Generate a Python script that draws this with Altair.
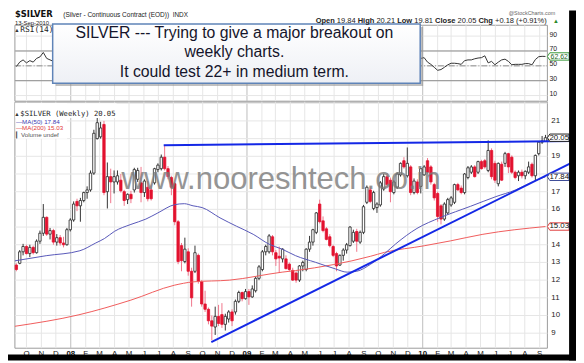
import altair as alt
import pandas as pd

# ---------------- values ----------------
first_week = "2007-09-10"

week_open = [
    12.85, 12.95, 13.60, 13.90, 13.50, 13.85, 13.55, 14.20, 14.65, 15.55,
    14.60, 14.80, 14.15, 14.40, 14.10, 14.00, 14.85, 15.40, 16.45, 16.20,
    16.50, 16.95, 17.10, 18.05, 20.00, 20.10, 20.80, 17.00, 17.85, 17.55,
    17.55, 17.65, 17.00, 16.55, 16.85, 17.10, 17.70, 17.50, 16.95, 17.25,
    17.10, 17.50, 18.25, 18.30, 18.95, 18.30, 17.80, 17.45, 15.30, 13.95,
    13.05, 13.60, 12.50, 12.50, 13.40, 11.90, 10.65, 10.35, 9.70, 9.35,
    9.95, 10.05, 9.50, 9.80, 10.20, 10.20, 10.80, 11.30, 10.95, 11.35,
    11.05, 11.40, 12.10, 12.60, 13.60, 13.60, 14.45, 13.55, 13.35, 13.20,
    13.20, 12.90, 12.55, 12.40, 12.00, 12.80, 12.60, 13.75, 14.15, 14.70,
    16.30, 15.35, 14.90, 14.45, 13.90, 13.50, 12.85, 13.40, 13.70, 13.95,
    14.20, 14.75, 14.15, 14.70, 16.40, 17.10, 16.05, 16.10, 16.25, 17.15,
    17.85, 17.65, 16.95, 17.25, 17.95, 18.75, 17.90, 18.40, 16.95, 17.55,
    17.30, 17.95, 18.75, 18.40, 17.40, 16.90, 16.20, 15.45, 15.80, 16.25,
    16.40, 17.40, 17.20, 16.95, 17.80, 18.10, 18.40, 18.10, 18.70, 18.75,
    18.20, 19.33, 18.60, 17.45, 18.55, 18.60, 19.15, 18.95, 18.10, 17.90,
    18.10, 17.90, 18.10, 18.55, 17.90, 19.15, 19.80, 19.84]
week_high = [
    12.95, 13.70, 14.05, 14.00, 14.00, 13.95, 14.30, 14.80, 16.30, 15.60,
    14.95, 14.90, 14.60, 14.55, 14.45, 14.95, 15.50, 16.45, 16.60, 16.65,
    17.00, 17.30, 18.20, 20.50, 21.30, 20.95, 21.00, 18.65, 18.30, 18.20,
    18.20, 18.00, 17.10, 16.90, 17.05, 18.35, 18.35, 18.40, 17.70, 17.60,
    17.40, 18.35, 18.60, 19.10, 19.60, 18.45, 17.90, 17.55, 15.40, 14.10,
    14.40, 13.80, 12.70, 13.95, 13.50, 12.00, 11.40, 10.45, 10.00, 10.50,
    10.60, 10.70, 10.10, 10.30, 10.35, 10.90, 11.40, 11.35, 11.50, 11.50,
    11.70, 12.20, 12.85, 13.70, 14.00, 14.60, 14.55, 13.70, 13.90, 13.80,
    13.40, 13.00, 12.70, 12.50, 12.85, 13.10, 13.80, 14.50, 14.90, 15.85,
    16.55, 15.60, 15.00, 14.60, 14.00, 13.60, 13.45, 13.80, 14.10, 15.05,
    14.85, 14.90, 14.80, 16.25, 17.35, 17.25, 17.05, 16.40, 17.60, 18.00,
    18.05, 17.80, 17.65, 18.10, 18.65, 18.95, 19.50, 18.50, 17.75, 17.70,
    18.35, 18.50, 18.90, 18.50, 17.50, 17.00, 16.30, 16.40, 16.65, 16.75,
    17.45, 17.50, 17.35, 18.05, 18.45, 18.50, 18.50, 18.75, 18.80, 18.85,
    19.90, 19.45, 18.75, 18.65, 18.70, 19.25, 19.20, 19.05, 18.20, 18.20,
    18.25, 18.20, 18.70, 18.65, 19.10, 19.85, 20.15, 20.21]
week_low = [
    12.50, 12.90, 13.40, 13.45, 13.30, 13.45, 13.50, 14.05, 14.50, 14.50,
    14.30, 14.00, 13.95, 13.95, 13.85, 13.95, 14.75, 15.30, 15.90, 15.30,
    16.40, 16.60, 17.00, 17.95, 19.95, 20.00, 16.80, 16.05, 16.35, 16.90,
    17.40, 16.95, 16.20, 16.30, 16.35, 16.95, 17.55, 16.40, 16.70, 16.45,
    16.50, 17.40, 18.10, 18.20, 18.20, 17.70, 16.80, 15.10, 12.90, 12.50,
    12.95, 12.25, 10.50, 12.40, 11.80, 10.50, 10.20, 9.50, 8.60, 8.90,
    9.40, 9.30, 9.15, 9.60, 9.40, 10.05, 10.70, 10.80, 10.90, 10.60,
    11.00, 11.30, 12.00, 12.50, 13.40, 13.50, 13.40, 12.80, 12.40, 13.00,
    12.60, 12.50, 11.95, 11.85, 11.90, 12.50, 12.50, 13.60, 13.95, 14.60,
    15.20, 14.70, 14.25, 13.85, 13.30, 12.50, 12.80, 13.10, 13.50, 13.90,
    14.10, 13.60, 14.05, 14.60, 16.30, 16.35, 15.95, 15.80, 16.15, 17.05,
    17.30, 16.40, 16.85, 17.15, 17.85, 18.30, 17.80, 16.80, 16.85, 16.85,
    16.90, 17.90, 18.00, 17.40, 16.50, 15.30, 15.15, 15.35, 15.70, 16.15,
    16.30, 17.05, 16.85, 16.85, 17.70, 18.00, 17.80, 18.00, 18.25, 18.30,
    18.10, 17.70, 17.50, 17.30, 17.60, 18.40, 18.05, 18.00, 17.70, 17.60,
    17.75, 17.70, 18.00, 17.80, 17.60, 19.05, 19.70, 19.81]
week_close = [
    12.60, 13.60, 13.90, 13.50, 13.85, 13.55, 14.20, 14.65, 15.55, 14.60,
    14.80, 14.15, 14.40, 14.10, 14.00, 14.85, 15.40, 16.30, 16.20, 16.50,
    16.95, 17.10, 18.05, 20.30, 20.90, 20.60, 16.95, 17.85, 17.55, 17.85,
    17.90, 17.05, 16.50, 16.85, 16.60, 18.25, 18.20, 16.95, 17.60, 16.60,
    16.60, 18.30, 18.50, 18.95, 18.30, 17.85, 17.25, 15.30, 13.05, 13.10,
    13.75, 12.50, 11.00, 13.55, 11.95, 10.65, 10.35, 9.70, 9.40, 9.95,
    9.55, 9.50, 9.95, 10.20, 9.70, 10.80, 11.30, 10.95, 11.35, 11.05,
    11.50, 12.10, 12.75, 13.60, 13.90, 14.50, 13.60, 13.20, 13.25, 13.75,
    12.65, 12.60, 12.00, 12.00, 12.80, 13.00, 13.75, 14.15, 14.85, 15.80,
    15.30, 14.80, 14.30, 13.95, 13.40, 12.80, 13.40, 13.70, 14.00, 15.00,
    14.70, 14.20, 14.70, 16.15, 17.25, 16.45, 16.95, 16.30, 17.50, 17.85,
    17.40, 17.00, 17.55, 18.00, 18.60, 18.40, 18.60, 16.95, 17.60, 16.95,
    18.30, 18.40, 18.10, 17.55, 16.65, 15.60, 15.45, 16.30, 16.55, 16.65,
    17.40, 17.10, 16.95, 18.00, 18.35, 18.40, 17.85, 18.70, 18.30, 18.40,
    19.33, 17.85, 17.65, 18.60, 17.65, 19.15, 18.40, 18.10, 17.80, 18.10,
    17.90, 18.15, 18.40, 17.90, 19.05, 19.80, 19.87, 20.05]

# RSI(14): only the parts not hidden by the annotation box
rsi_head_weeks = list(range(0, 12))
rsi_head = [49, 55, 58, 54, 57, 55, 60, 62, 68, 60, 58, 56]
rsi_tail_weeks = list(range(120, 158))
rsi_tail = [60, 61, 55, 52, 48, 44, 45, 48, 51.3, 53.5,
            53.5, 53, 52, 57, 58, 58, 59.5, 60.5, 61, 63.5,
            54, 56, 51.5, 55, 58, 59, 56, 51.5, 52, 52,
            52, 53, 53, 51.3, 58.5, 62.3, 62.8, 62.62]

ma50_dates = ["2007-09-07", "2007-11-11", "2008-01-20", "2008-02-22", "2008-03-11",
              "2008-04-01", "2008-05-05", "2008-06-05", "2008-06-30", "2008-08-03",
              "2008-08-24", "2008-09-11", "2008-09-30", "2008-11-06", "2008-12-10",
              "2009-01-14", "2009-02-16", "2009-03-15", "2009-04-12", "2009-05-23",
              "2009-07-03", "2009-07-28", "2009-08-17", "2009-09-15", "2009-10-14",
              "2009-11-06", "2009-12-20", "2010-02-07", "2010-04-10", "2010-06-02",
              "2010-07-13", "2010-08-17", "2010-09-13"]
ma50_values = [13.09, 13.38, 13.66, 14.10, 14.35,
               14.76, 15.15, 15.45, 15.80, 16.26,
               16.32, 16.20, 16.10, 15.52, 15.05,
               14.59, 14.03, 13.75, 13.38, 13.01,
               12.64, 12.45, 12.50, 12.90, 13.50,
               14.05, 14.92, 15.54, 16.17, 16.72,
               17.10, 17.56, 17.84]
ma200_dates = ["2007-09-07", "2008-01-18", "2008-05-05", "2008-08-03", "2008-09-11",
               "2008-11-26", "2009-03-15", "2009-04-12", "2009-09-15", "2009-10-14",
               "2010-01-04", "2010-02-28", "2010-05-06", "2010-09-13"]
ma200_values = [9.39, 10.04, 10.87, 11.71, 11.90,
                12.00, 12.45, 12.54, 13.35, 13.57,
                13.94, 14.22, 14.59, 15.03]

resistance_dates = ["2008-07-12", "2010-11-07"]
resistance_values = [19.63, 19.86]
support_dates = ["2008-10-19", "2010-11-10"]
support_values = [8.50, 18.68]

month_labels = ["O", "N", "D", "08", "F", "M", "A", "M", "J", "J", "A", "S",
                "O", "N", "D", "09", "F", "M", "A", "M", "J", "J", "A", "S",
                "O", "N", "D", "10", "F", "M", "A", "M", "J", "J", "A", "S"]
price_grid = list(range(9, 23))
price_labels = [9, 10, 11, 12, 13, 14, 16, 17, 19, 21]
rsi_grid = [10, 30, 50, 70, 90]
rsi_bands = [30, 70]
rsi_mid = [50]

price_tags = [20.05, 17.84, 15.03]
rsi_tag = [62.62]

# ---------------- tables ----------------
week_dates = pd.date_range(first_week, periods=len(week_close), freq="7D").strftime("%Y-%m-%d").tolist()
candles = pd.DataFrame({"date": week_dates, "open": week_open, "high": week_high,
                        "low": week_low, "close": week_close})
candles["dir"] = ["up" if c >= o else "down" for o, c in zip(week_open, week_close)]

rsi_df = pd.DataFrame({
    "date": [week_dates[i] for i in rsi_head_weeks] + [week_dates[i] for i in rsi_tail_weeks],
    "rsi": rsi_head + rsi_tail,
    "seg": ["a"] * len(rsi_head) + ["b"] * len(rsi_tail)})
ma50_df = pd.DataFrame({"date": ma50_dates, "v": ma50_values})
ma200_df = pd.DataFrame({"date": ma200_dates, "v": ma200_values})
res_df = pd.DataFrame({"date": resistance_dates, "v": resistance_values})
sup_df = pd.DataFrame({"date": support_dates, "v": support_values})
months = pd.DataFrame({
    "date": pd.date_range("2007-10-01", periods=len(month_labels), freq="MS").strftime("%Y-%m-%d"),
    "label": month_labels,
    "kind": ["year" if s.isdigit() else "month" for s in month_labels]})
pgrid_df = pd.DataFrame({"v": price_grid})
plab_df = pd.DataFrame({"v": price_labels, "t": [str(v) for v in price_labels]})
rgrid_df = pd.DataFrame({"v": rsi_grid, "t": [str(v) for v in rsi_grid]})
rband_df = pd.DataFrame({"v": rsi_bands})
rmid_df = pd.DataFrame({"v": rsi_mid})
ptag_df = pd.DataFrame({"v": price_tags, "t": [f"{v:.2f}" for v in price_tags],
                        "edge": ["#222222", "#3c4a96", "#e03a3a"]})
rtag_df = pd.DataFrame({"v": rsi_tag, "t": [f"{v:.2f}" for v in rsi_tag], "edge": ["#3a9a3a"]})

# ---------------- layout (pixels inside the 576x355 canvas) ----------------
W, H = 576, 355
X0, X1 = 7, 547
RT, RB = 15, 92
PT, PB = 93, 342.5
FONT = "Liberation Sans"
TAG = "M -1 0 L -0.78 -0.34 L 1 -0.34 L 1 0.34 L -0.78 0.34 Z"


def dt(y, m, d):
    return alt.DateTime(year=y, month=m, date=d, utc=True)


x_scale = alt.Scale(type="utc", domain=[dt(2007, 9, 7), dt(2010, 9, 17)], range=[X0, X1])
p_scale = alt.Scale(domain=[8.15, 22.06], range=[PB, PT], nice=False, zero=False)
r_scale = alt.Scale(domain=[2.44, 104.6], range=[RB, RT], nice=False, zero=False)


def xd():
    return alt.X("date:T", scale=x_scale, axis=None)


def yp(f):
    return alt.Y(f + ":Q", scale=p_scale, axis=None)


def yr(f):
    return alt.Y(f + ":Q", scale=r_scale, axis=None)


one = pd.DataFrame({"k": [0]})


def box(x, x2, y, y2, **kw):
    return alt.Chart(one).mark_rect(**kw).encode(
        x=alt.value(x), x2=alt.value(x2), y=alt.value(y), y2=alt.value(y2))


def label(txt, x, y, **kw):
    return alt.Chart(pd.DataFrame({"t": [txt]})).mark_text(**kw).encode(
        x=alt.value(x), y=alt.value(y), text="t:N")


grid_color = alt.Color("kind:N", scale=alt.Scale(domain=["month", "year"],
                                                 range=["#e6e6e6", "#bdbdbd"]), legend=None)

layers = [
    box(X0, X1, RT, RB, fill="white", stroke="#9a9a9a", strokeWidth=1),
    box(X0, X1, PT, PB, fill="white", stroke="#9a9a9a", strokeWidth=1),
    alt.Chart(months).mark_rule(strokeWidth=1).encode(
        x=xd(), y=alt.value(RT), y2=alt.value(RB), color=grid_color),
    alt.Chart(months).mark_rule(strokeWidth=1).encode(
        x=xd(), y=alt.value(PT), y2=alt.value(PB), color=grid_color),
    alt.Chart(pgrid_df).mark_rule(color="#e6e6e6").encode(
        y=yp("v"), x=alt.value(X0), x2=alt.value(X1)),
    alt.Chart(rgrid_df).mark_rule(color="#e6e6e6").encode(
        y=yr("v"), x=alt.value(X0), x2=alt.value(X1)),
    alt.Chart(rband_df).mark_rule(color="#8c8c8c").encode(
        y=yr("v"), x=alt.value(X0), x2=alt.value(X1)),
    alt.Chart(rmid_df).mark_rule(color="#8c8c8c", strokeDash=[6, 2, 1, 2]).encode(
        y=yr("v"), x=alt.value(X0), x2=alt.value(X1)),
    alt.Chart(rsi_df).mark_line(color="#333333", strokeWidth=1).encode(
        x=xd(), y=yr("rsi"), detail="seg:N"),
    # candles
    alt.Chart(candles).mark_rule(strokeWidth=1).encode(
        x=xd(), y=yp("low"), y2="high:Q",
        color=alt.Color("dir:N", scale=alt.Scale(domain=["up", "down"],
                                                 range=["#333333", "#f0758a"]), legend=None)),
    alt.Chart(candles).mark_rect(xOffset=-1.2, x2Offset=1.2, strokeWidth=0.8).encode(
        x=xd(), x2="date:T", y=yp("open"), y2="close:Q",
        fill=alt.Fill("dir:N", scale=alt.Scale(domain=["up", "down"],
                                               range=["#ffffff", "#e3122f"]), legend=None),
        stroke=alt.Stroke("dir:N", scale=alt.Scale(domain=["up", "down"],
                                                   range=["#222222", "#e3122f"]), legend=None)),
    alt.Chart(ma200_df).mark_line(color="#f05a5a", strokeWidth=1, interpolate="monotone").encode(
        x=xd(), y=yp("v")),
    alt.Chart(ma50_df).mark_line(color="#5656b8", strokeWidth=1, interpolate="monotone").encode(
        x=xd(), y=yp("v")),
    alt.Chart(res_df).mark_line(color="#1428e6", strokeWidth=2).encode(x=xd(), y=yp("v")),
    alt.Chart(sup_df).mark_line(color="#1428e6", strokeWidth=2).encode(x=xd(), y=yp("v")),
    label("www.nooreshtech.co.in", 277, 181, fontSize=31.5, font=FONT, color="#7b7b7b",
          opacity=0.8, align="center", baseline="alphabetic"),
    # price legend
    box(X0 + 0.5, 110, PT + 1, 109, fill="white"),
    box(X0 + 0.5, 60, PT + 1, 130, fill="white"),
    label("\u25b2", 9, 107.5, fontSize=5.5, color="#333333", align="center", baseline="alphabetic"),
    label("$SILVER (Weekly) 20.05", 12.5, 107.5, fontSize=7.3, font="DejaVu Sans Mono",
          color="#222222", align="left", baseline="alphabetic"),
    label("\u2014MA(50) 17.84", 8, 115, fontSize=6.3, font=FONT, color="#3b3bb0",
          align="left", baseline="alphabetic"),
    label("\u2014MA(200) 15.03", 8, 121.5, fontSize=6.3, font=FONT, color="#e23b3b",
          align="left", baseline="alphabetic"),
    label("\u258eVolume undef", 8, 128, fontSize=6.3, font=FONT, color="#555555",
          align="left", baseline="alphabetic"),
    # axis labels
    alt.Chart(plab_df).mark_text(align="left", baseline="middle", fontSize=8, font=FONT,
                                 color="#222222").encode(y=yp("v"), x=alt.value(551), text="t:N"),
    alt.Chart(rgrid_df).mark_text(align="left", baseline="middle", fontSize=7, font=FONT,
                                  dy=-1.5, color="#222222").encode(
        y=yr("v"), x=alt.value(549), text="t:N"),
    alt.Chart(months).transform_filter("datum.kind == 'month'").mark_text(
        baseline="middle", fontSize=8, font=FONT, color="#222222").encode(
        x=xd(), y=alt.value(348), text="label:N"),
    alt.Chart(months).transform_filter("datum.kind == 'year'").mark_text(
        baseline="middle", fontSize=8, font=FONT, fontWeight="bold", color="#111111").encode(
        x=xd(), y=alt.value(348), text="label:N"),
    # value tags
    alt.Chart(ptag_df).mark_point(shape=TAG, size=484, filled=True, fill="white",
                                  strokeWidth=1, opacity=1).encode(
        x=alt.value(558), y=yp("v"), stroke=alt.Stroke("edge:N", scale=None)),
    alt.Chart(ptag_df).mark_text(fontSize=8, font=FONT, align="center", baseline="middle",
                                 dx=1, color="#111111").encode(
        x=alt.value(558), y=yp("v"), text="t:N"),
    alt.Chart(rtag_df).mark_point(shape=TAG, size=484, filled=True, fill="white",
                                  strokeWidth=1, opacity=1).encode(
        x=alt.value(558), y=yr("v"), stroke=alt.Stroke("edge:N", scale=None)),
    alt.Chart(rtag_df).mark_text(fontSize=7, font=FONT, align="center", baseline="middle",
                                 dx=1, dy=0.5, color="#226622").encode(
        x=alt.value(558), y=yr("v"), text="t:N"),
    # RSI legend
    label("\u25b2", 9, 22, fontSize=5.5, color="#333333", align="center", baseline="alphabetic"),
    label("RSI(14)", 12.5, 22, fontSize=8, font="DejaVu Sans Mono", color="#222222",
          align="left", baseline="alphabetic"),
    # annotation box
    box(48.3, 421, 16.7, 76.7, fill="#8c8c8c", opacity=0.55),
    alt.Chart(one).mark_rect(
        fill=alt.Gradient(gradient="linear", x1=0, x2=0, y1=0, y2=1,
                          stops=[alt.GradientStop(offset=0, color="#ffffff"),
                                 alt.GradientStop(offset=1, color="#eef0f5")]),
        stroke="#5f84b8", strokeWidth=1.5).encode(
        x=alt.value(45.3), x2=alt.value(418), y=alt.value(13.7), y2=alt.value(73.7)),
    label("SILVER --- Trying to give a major breakout on", 229.5, 28, fontSize=16, font=FONT,
          color="#15152b", align="center", baseline="alphabetic"),
    label("weekly charts.", 229.5, 47.5, fontSize=16, font=FONT,
          color="#15152b", align="center", baseline="alphabetic"),
    label("It could test 22+ in medium term.", 229.5, 67, fontSize=16, font=FONT,
          color="#15152b", align="center", baseline="alphabetic"),
    # header (kept inside the canvas, whose top is the reference's 8th pixel row)
    label("$SILVER", 7, 6.8, fontSize=8.5, font="DejaVu Sans", fontWeight="bold",
          color="#111111", align="left", baseline="alphabetic"),
    label("(Silver - Continuous Contract (EOD))", 56, 6.5, fontSize=6.6, font=FONT,
          color="#222222", align="left", baseline="alphabetic"),
    label("INDX", 167, 6.5, fontSize=6.5, font=FONT, color="#222222",
          align="left", baseline="alphabetic"),
    label("13-Sep-2010", 7, 14.3, fontSize=6, font=FONT, color="#222222",
          align="left", baseline="alphabetic"),
    label("@StockCharts.com", 555, 5, fontSize=5.5, font=FONT, color="#666666",
          align="right", baseline="alphabetic"),
]

hdr = [("Open", 312, True), ("19.84", 333.5, False), ("High", 354.6, True),
       ("20.21", 373.6, False), ("Low", 394.7, True), ("19.81", 412.0, False),
       ("Close", 433.1, True), ("20.05", 455.9, False), ("Chg", 477.0, True),
       ("+0.18 (+0.91%)", 493.9, False), ("\u25b2", 552.7, False)]
for txt, xx, bold in hdr:
    kw = dict(fontSize=7.6, font=FONT, color="#222222", align="left", baseline="alphabetic")
    if bold:
        kw["fontWeight"] = "bold"
    if txt == "\u25b2":
        kw["color"] = "#2a8a2a"
        kw["fontSize"] = 6
    layers.append(label(txt, xx, 12.5, **kw))

# outer frame shadow (right and bottom edges)
layers.append(box(569, W, 0, H, fill="#000000"))
layers.append(box(0, W, 349, H, fill="#000000"))

chart = alt.layer(*layers).resolve_scale(
    x="independent", y="independent", color="independent",
    fill="independent", stroke="independent"
).properties(
    width=W, height=H, padding=0,
    autosize=alt.AutoSizeParams(type="none"),
    background="white",
).configure_view(stroke=None)

chart.save("out.html", embed_options={"renderer": "svg", "actions": False})
